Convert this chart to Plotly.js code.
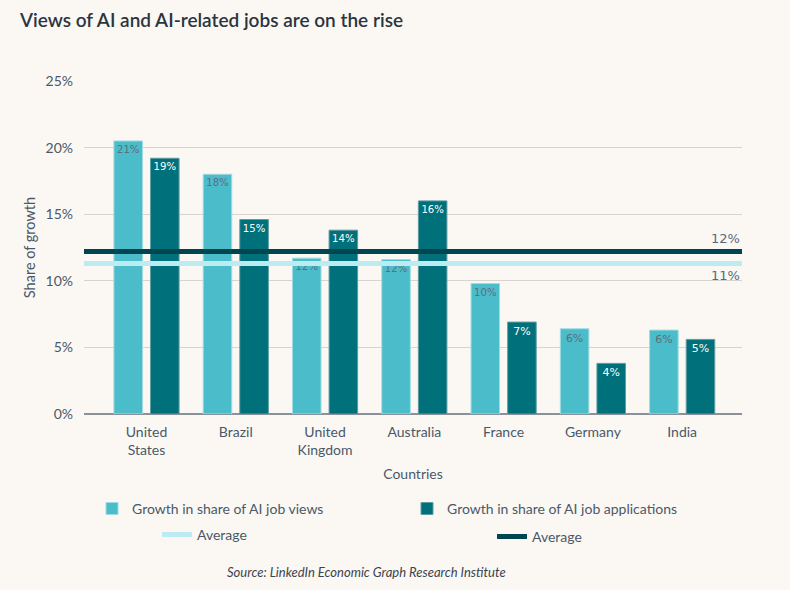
<!DOCTYPE html>
<html>
<head>
<meta charset="utf-8">
<script src="https://cdn.plot.ly/plotly-3.0.1.min.js"></script>
<style>
html,body{margin:0;padding:0;background:#FBF8F4;}
#chart{width:790px;height:590px;}
</style>
</head>
<body>
<div id="chart"></div>
<script>
// ---- data ----
const countries = ["United<br>States", "Brazil", "United<br>Kingdom", "Australia", "France", "Germany", "India"];
const viewsGrowth = [20.5, 18.0, 11.7, 11.6, 9.8, 6.4, 6.3];
const viewsLabels = ["21%", "18%", "12%", "12%", "10%", "6%", "6%"];
const appsGrowth = [19.2, 14.6, 13.8, 16.0, 6.9, 3.8, 5.6];
const appsLabels = ["19%", "15%", "14%", "16%", "7%", "4%", "5%"];
const viewsAverage = 11.3;
const appsAverage = 12.2;
const viewsAverageLabel = "11%";
const appsAverageLabel = "12%";
const yTicks = [0, 5, 10, 15, 20, 25];
const yTickLabels = ["0%", "5%", "10%", "15%", "20%", "25%"];

const FONT = "Lato, 'Open Sans', sans-serif";
const TXT = "#4A5868";

const traces = [
  {
    type: "bar", name: "Growth in share of AI job views",
    x: countries, y: viewsGrowth, text: viewsLabels,
    textposition: "inside", insidetextanchor: "end", textangle: 0,
    textfont: {family: "'DejaVu Sans', sans-serif", size: 11, color: "#5E6E7C"},
    marker: {color: "#4BBCCA", line: {color: "#9FDCE3", width: 1}},
    hoverinfo: "skip", showlegend: true, legend: "legend2"
  },
  {
    type: "bar", name: "Growth in share of AI job applications",
    x: countries, y: appsGrowth, text: appsLabels,
    textposition: "inside", insidetextanchor: "end", textangle: 0,
    textfont: {family: "'DejaVu Sans', sans-serif", size: 11, color: "#FFFFFF"},
    marker: {color: "#00707A", line: {color: "#5E9CA3", width: 1}},
    hoverinfo: "skip", showlegend: true, legend: "legend3"
  },
  {
    type: "scatter", mode: "lines", name: "Average",
    x: [0, 1], y: [viewsAverage, viewsAverage], xaxis: "x2",
    line: {color: "#BDEBF2", width: 5}, hoverinfo: "skip", showlegend: true, legend: "legend4"
  },
  {
    type: "scatter", mode: "lines", name: "Average",
    x: [0, 1], y: [appsAverage, appsAverage], xaxis: "x2",
    line: {color: "#004650", width: 5}, hoverinfo: "skip", showlegend: true, legend: "legend5"
  }
];

function legendAt(x, y) {
  return {visible: true, orientation: "h", x: x, xanchor: "left", y: y, yanchor: "middle",
          font: {size: 14, color: TXT}, bgcolor: "rgba(0,0,0,0)"};
}

const layout = {
  width: 790, height: 590, showlegend: true,
  paper_bgcolor: "#FBF8F4", plot_bgcolor: "#FBF8F4",
  font: {family: FONT, color: TXT, size: 14},
  margin: {l: 84, r: 48, t: 81, b: 176},
  title: {text: "Views of AI and AI-related jobs are on the rise",
          font: {family: FONT, size: 19, color: "#2B3540", weight: 600},
          x: 20 / 790, xanchor: "left", xref: "container", y: 0.965, yanchor: "middle"},
  barmode: "group", bargap: 0.18, bargroupgap: 0.22,
  xaxis: {
    type: "category", range: [-0.70, 6.67], showgrid: false, zeroline: false,
    ticks: "", tickfont: {size: 14, color: TXT}, ticklabelstandoff: 8, tickangle: 0,
    title: {text: "Countries", font: {size: 14, color: TXT}, standoff: 11},
    showline: false, fixedrange: true, automargin: false
  },
  xaxis2: {overlaying: "x", range: [0, 1], visible: false, fixedrange: true},
  yaxis: {
    range: [0, 25], tickvals: yTicks, ticktext: yTickLabels,
    showgrid: true, gridcolor: "#D6D3D0", gridwidth: 1,
    zeroline: true, zerolinecolor: "#8A9299", zerolinewidth: 2,
    tickfont: {size: 14, color: TXT}, ticks: "", ticklen: 0, ticklabelstandoff: 10,
    title: {text: "Share of growth", font: {size: 14.5, color: TXT}, standoff: 6},
    fixedrange: true, automargin: false
  },
  legend2: legendAt(0.0122, -0.285),
  legend3: legendAt(0.4909, -0.285),
  legend4: legendAt(0.1109, -0.363),
  legend5: legendAt(0.6201, -0.369),
  annotations: [
    {text: appsAverageLabel, xref: "paper", yref: "y", x: 1, y: appsAverage,
     xanchor: "right", yanchor: "bottom", yshift: 4, showarrow: false,
     font: {family: "'DejaVu Sans', sans-serif", size: 13, color: "#5A6878"}},
    {text: viewsAverageLabel, xref: "paper", yref: "y", x: 1, y: viewsAverage,
     xanchor: "right", yanchor: "top", yshift: -3, showarrow: false,
     font: {family: "'DejaVu Sans', sans-serif", size: 13, color: "#5A6878"}},
    {text: "<i>Source: LinkedIn Economic Graph Research Institute</i>",
     xref: "paper", yref: "paper", x: 0.430, y: -0.474, xanchor: "center", yanchor: "middle",
     showarrow: false, font: {size: 13, color: "#3A4450", weight: 400}}
  ]
};

Plotly.newPlot("chart", traces, layout, {displayModeBar: false, staticPlot: true});
</script>
</body>
</html>
